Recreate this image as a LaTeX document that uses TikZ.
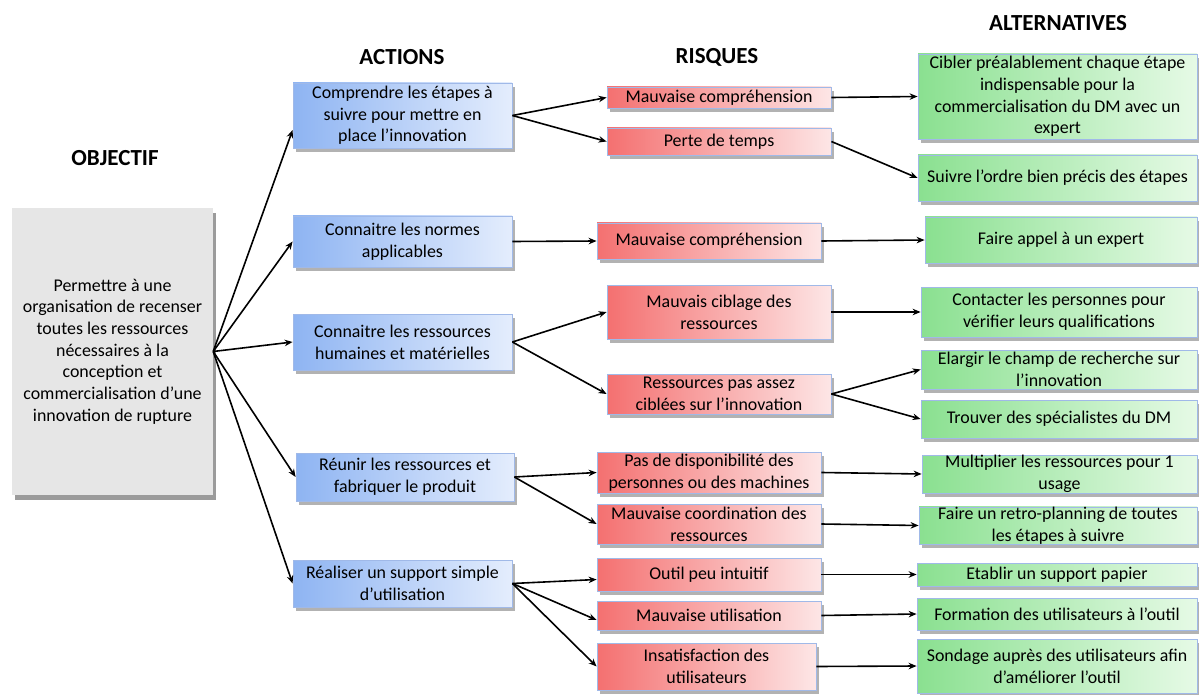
\documentclass[tikz,border=0pt]{standalone}
\usepackage{fontspec}
\setmainfont{Carlito}
\usetikzlibrary{arrows.meta,shadows,calc}
\definecolor{blueL}{RGB}{142,180,242}
\definecolor{blueR}{RGB}{228,237,253}
\definecolor{redL}{RGB}{244,112,112}
\definecolor{redR}{RGB}{253,230,230}
\definecolor{greenL}{RGB}{138,224,144}
\definecolor{greenR}{RGB}{230,250,230}
\definecolor{bordc}{RGB}{160,185,232}
\definecolor{objgray}{RGB}{230,230,230}
\tikzset{
  txt/.style={font=\fontsize{17.9}{21.7}\selectfont, align=center, inner sep=0pt},
  head/.style={font=\fontsize{23}{27}\selectfont\bfseries, inner sep=0pt},
  shbox/.style={txt, draw=bordc, line width=0.8pt,
    drop shadow={shadow xshift=3pt, shadow yshift=-4pt, opacity=0.55, fill=black!55}},
  bluebox/.style={shbox, left color=blueL, right color=blueR},
  redbox/.style={shbox, left color=redL, right color=redR},
  greenbox/.style={shbox, left color=greenL, right color=greenR},
  objbox/.style={txt, fill=objgray,
    drop shadow={shadow xshift=3pt, shadow yshift=-5pt, opacity=0.6, fill=black!65}},
  arr/.style={-{Stealth[length=8pt,width=6.5pt]}, line width=1.6pt, black}
}
\begin{document}
\begin{tikzpicture}[x=1pt,y=-1pt]
\useasboundingbox (0,0) rectangle (1199,695);

% headings
\node[head] (hObj) at (115,158) {OBJECTIF};
\node[head] (hAct) at (402,57) {ACTIONS};
\node[head] (hRis) at (717,57) {RISQUES};
\node[head] (hAlt) at (1058,23) {ALTERNATIVES};

% objective
\node[objbox, minimum width=201, minimum height=287] (OBJ) at (112.5,351.5)
  {Permettre à une\\organisation de recenser\\toutes les ressources\\nécessaires à la\\conception et\\commercialisation d’une\\innovation de rupture};

% actions
\node[bluebox, minimum width=219, minimum height=65] (A1) at (402.5,115.5)
  {Comprendre les étapes à\\suivre pour mettre en\\place l’innovation};
\node[bluebox, minimum width=219, minimum height=51] (A2) at (402.5,241.5)
  {Connaitre les normes\\applicables};
\node[bluebox, minimum width=219, minimum height=56] (A3) at (402.5,342)
  {Connaitre les ressources\\humaines et matérielles};
\node[bluebox, minimum width=218, minimum height=48] (A4) at (405,477)
  {Réunir les ressources et\\fabriquer le produit};
\node[bluebox, minimum width=219, minimum height=47] (A5) at (402.5,583.5)
  {Réaliser un support simple\\d’utilisation};

% risks
\node[redbox, minimum width=224, minimum height=21] (R1) at (719,97.5) {Mauvaise compréhension};
\node[redbox, minimum width=224, minimum height=27] (R2) at (719,141.5) {Perte de temps};
\node[redbox, minimum width=224, minimum height=36] (R3) at (709,241) {Mauvaise compréhension};
\node[redbox, minimum width=224, minimum height=54] (R4) at (719,312) {Mauvais ciblage des\\ressources};
\node[redbox, minimum width=224, minimum height=40] (R5) at (719,394) {Ressources pas assez\\ciblées sur l’innovation};
\node[redbox, minimum width=224, minimum height=41] (R6) at (709,472.5) {Pas de disponibilité des\\personnes ou des machines};
\node[redbox, minimum width=224, minimum height=40] (R7) at (709,524) {Mauvaise coordination des\\ressources};
\node[redbox, minimum width=224, minimum height=33] (R8) at (709,574.5) {Outil peu intuitif};
\node[redbox, minimum width=224, minimum height=29] (R9) at (709,615.5) {Mauvaise utilisation};
\node[redbox, minimum width=219, minimum height=47] (R10) at (706.5,666.5) {Insatisfaction des\\utilisateurs};

% alternatives
\node[greenbox, minimum width=279, minimum height=85] (G1) at (1057.5,96.5)
  {Cibler préalablement chaque étape\\indispensable pour la\\commercialisation du DM avec un\\expert};
\node[greenbox, minimum width=279, minimum height=46] (G2) at (1057.5,178) {Suivre l’ordre bien précis des étapes};
\node[greenbox, minimum width=272, minimum height=46] (G3) at (1061,240) {Faire appel à un expert};
\node[greenbox, minimum width=276, minimum height=50] (G4) at (1059,312) {Contacter les personnes pour\\vérifier leurs qualifications};
\node[greenbox, minimum width=276, minimum height=39] (G5) at (1059,369.5) {Elargir le champ de recherche sur\\l’innovation};
\node[greenbox, minimum width=276, minimum height=38] (G6) at (1059,419) {Trouver des spécialistes du DM};
\node[greenbox, minimum width=275, minimum height=38] (G7) at (1059.5,474) {Multiplier les ressources pour 1\\usage};
\node[greenbox, minimum width=278, minimum height=37] (G8) at (1058,525.5) {Faire un retro-planning de toutes\\les étapes à suivre};
\node[greenbox, minimum width=280, minimum height=23] (G9) at (1057,574.5) {Etablir un support papier};
\node[greenbox, minimum width=280, minimum height=32] (G10) at (1057,614) {Formation des utilisateurs à l’outil};
\node[greenbox, minimum width=280, minimum height=54] (G11) at (1057,666) {Sondage auprès des utilisateurs afin\\d’améliorer l’outil};

% objective -> actions
\draw[arr] (OBJ.east) -- ($(A1.west)+(0,14.5)$);
\draw[arr] (OBJ.east) -- (A2.west);
\draw[arr] (OBJ.east) -- (A3.west);
\draw[arr] (OBJ.east) -- (A4.west);
\draw[arr] (OBJ.east) -- (A5.west);

% actions -> risks
\draw[arr] (A1.east) -- (R1.west);
\draw[arr] (A1.east) -- (R2.west);
\draw[arr] (A2.east) -- (R3.west);
\draw[arr] (A3.east) -- (R4.west);
\draw[arr] (A3.east) -- (R5.west);
\draw[arr] (A4.east) -- (R6.west);
\draw[arr] (A4.east) -- (R7.west);
\draw[arr] (A5.east) -- ($(R8.west)+(0,5)$);
\draw[arr] (A5.east) -- ($(R9.west)+(0,4.5)$);
\draw[arr] (A5.east) -- (R10.west);

% risks -> alternatives
\draw[arr] (R1.east) -- (G1.west);
\draw[arr] (R2.east) -- (G2.west);
\draw[arr] (R3.east) -- (G3.west);
\draw[arr] (R4.east) -- (G4.west);
\draw[arr] (R5.east) -- (G5.west);
\draw[arr] (R5.east) -- (G6.west);
\draw[arr] (R6.east) -- (G7.west);
\draw[arr] (R7.east) -- (G8.west);
\draw[arr] (R8.east) -- (G9.west);
\draw[arr] (R9.east) -- (G10.west);
\draw[arr] (R10.east) -- (G11.west);
\end{tikzpicture}
\end{document}
